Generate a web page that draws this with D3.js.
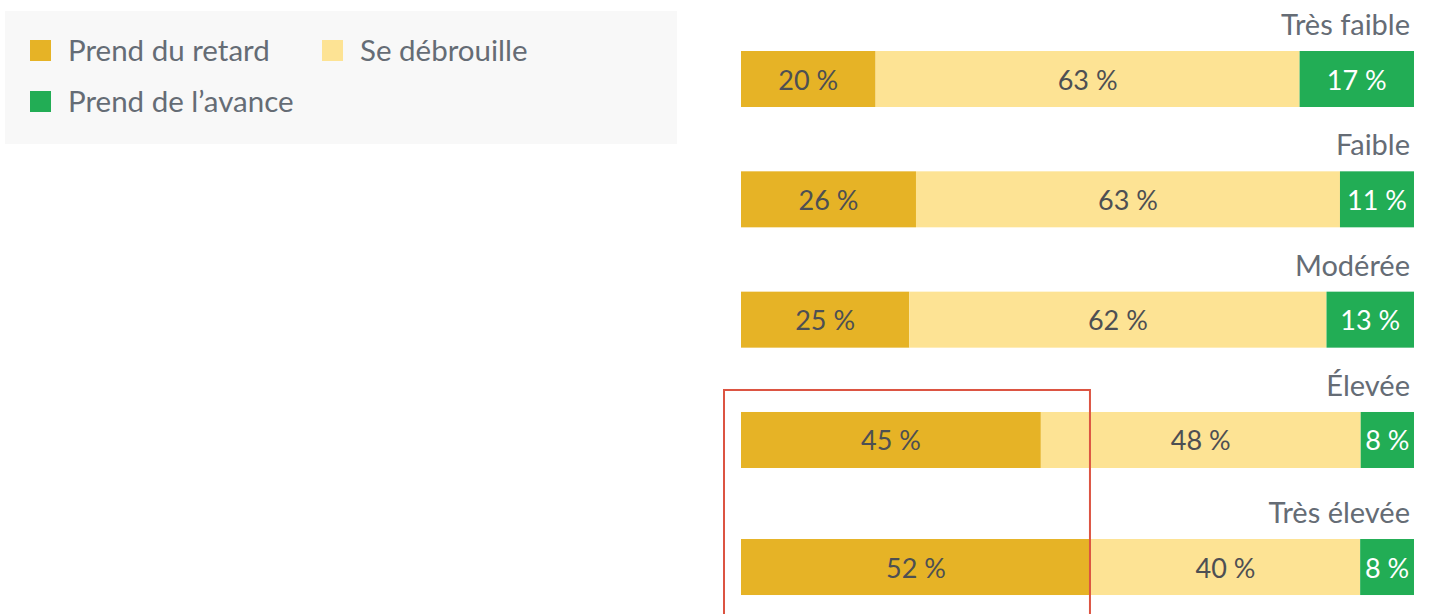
<!DOCTYPE html>
<html>
<head>
<meta charset="utf-8">
<script src="https://cdn.jsdelivr.net/npm/d3@7"></script>
<style>
  html, body { margin: 0; padding: 0; background: #ffffff; }
  svg { display: block; font-family: Lato, "Open Sans", sans-serif; }
</style>
</head>
<body>
<svg id="chart" width="1429" height="614"></svg>
<script>
// ---- Data ----
const categories = ["Très faible", "Faible", "Modérée", "Élevée", "Très élevée"];
const seriesNames = ["Prend du retard", "Se débrouille", "Prend de l’avance"];
const retard    = [20, 26, 25, 45, 52];
const debrouille = [63, 63, 62, 48, 40];
const avance    = [17, 11, 13, 8, 8];
const highlighted = ["Élevée", "Très élevée"];

const colors = ["#e6b326", "#fde394", "#22ad55"];
const textColors = ["#4d4f53", "#4d4f53", "#ffffff"];

// ---- Build table ----
const keys = ["retard", "debrouille", "avance"];
const rows = categories.map((c, i) => ({ cat: c, retard: retard[i], debrouille: debrouille[i], avance: avance[i] }));
const stack = d3.stack().keys(keys).offset(d3.stackOffsetExpand);
const stacked = stack(rows);

const svg = d3.select("#chart");

// ---- Scales ----
const x = d3.scaleLinear().domain([0, 1]).range([741, 1414]);
const barH = 56;
const y = d3.scaleBand().domain(categories).range([51, 51 + 120.33 * 5]).paddingInner(0).paddingOuter(0);
const extra = c => (c === "Très élevée" ? 6.7 : 0);
const yTop = c => y(c) + extra(c);

// ---- Legend ----
const legend = svg.append("g");
legend.append("rect").attr("x", 5).attr("y", 11).attr("width", 672).attr("height", 133).attr("fill", "#f8f8f8");
const legendPos = [[30, 40], [322, 40], [30, 91]];
seriesNames.forEach((name, i) => {
  const g = legend.append("g").attr("transform", `translate(${legendPos[i][0]},${legendPos[i][1]})`);
  g.append("rect").attr("width", 21).attr("height", 21).attr("fill", colors[i]);
  g.append("text").attr("x", 38).attr("y", 20.5).attr("font-size", 29.5).attr("fill", "#656c75").text(name);
});

// ---- Category labels ----
svg.append("g").selectAll("text").data(categories).join("text")
  .attr("x", 1410).attr("y", c => yTop(c) - 16)
  .attr("text-anchor", "end").attr("font-size", 29).attr("fill", "#656c75")
  .text(c => c);

// ---- Bars ----
const layers = svg.append("g").selectAll("g").data(stacked).join("g")
  .attr("fill", (d, i) => colors[i]);
layers.selectAll("rect").data(d => d).join("rect")
  .attr("x", d => x(d[0]))
  .attr("width", d => x(d[1]) - x(d[0]))
  .attr("y", d => yTop(d.data.cat))
  .attr("height", barH);

// ---- Value labels ----
const labels = svg.append("g").selectAll("g").data(stacked).join("g");
labels.each(function(layer, li) {
  d3.select(this).selectAll("text").data(layer).join("text")
    .attr("x", d => (x(d[0]) + x(d[1])) / 2)
    .attr("y", d => yTop(d.data.cat) + barH / 2 + 10.5)
    .attr("text-anchor", "middle")
    .attr("font-size", 27)
    .attr("fill", textColors[li])
    .text(d => d.data[keys[li]] + " %");
});

// ---- Highlight box ----
const retardLayer = stacked[0];
const boxRight = d3.max(retardLayer.filter(d => highlighted.includes(d.data.cat)), d => x(d[1]));
svg.append("rect")
  .attr("x", x(0) - 17)
  .attr("y", yTop(highlighted[0]) - 22)
  .attr("width", boxRight - (x(0) - 17) - 1)
  .attr("height", 300)
  .attr("fill", "none")
  .attr("stroke", "#dc5442")
  .attr("stroke-width", 2);
</script>
</body>
</html>
